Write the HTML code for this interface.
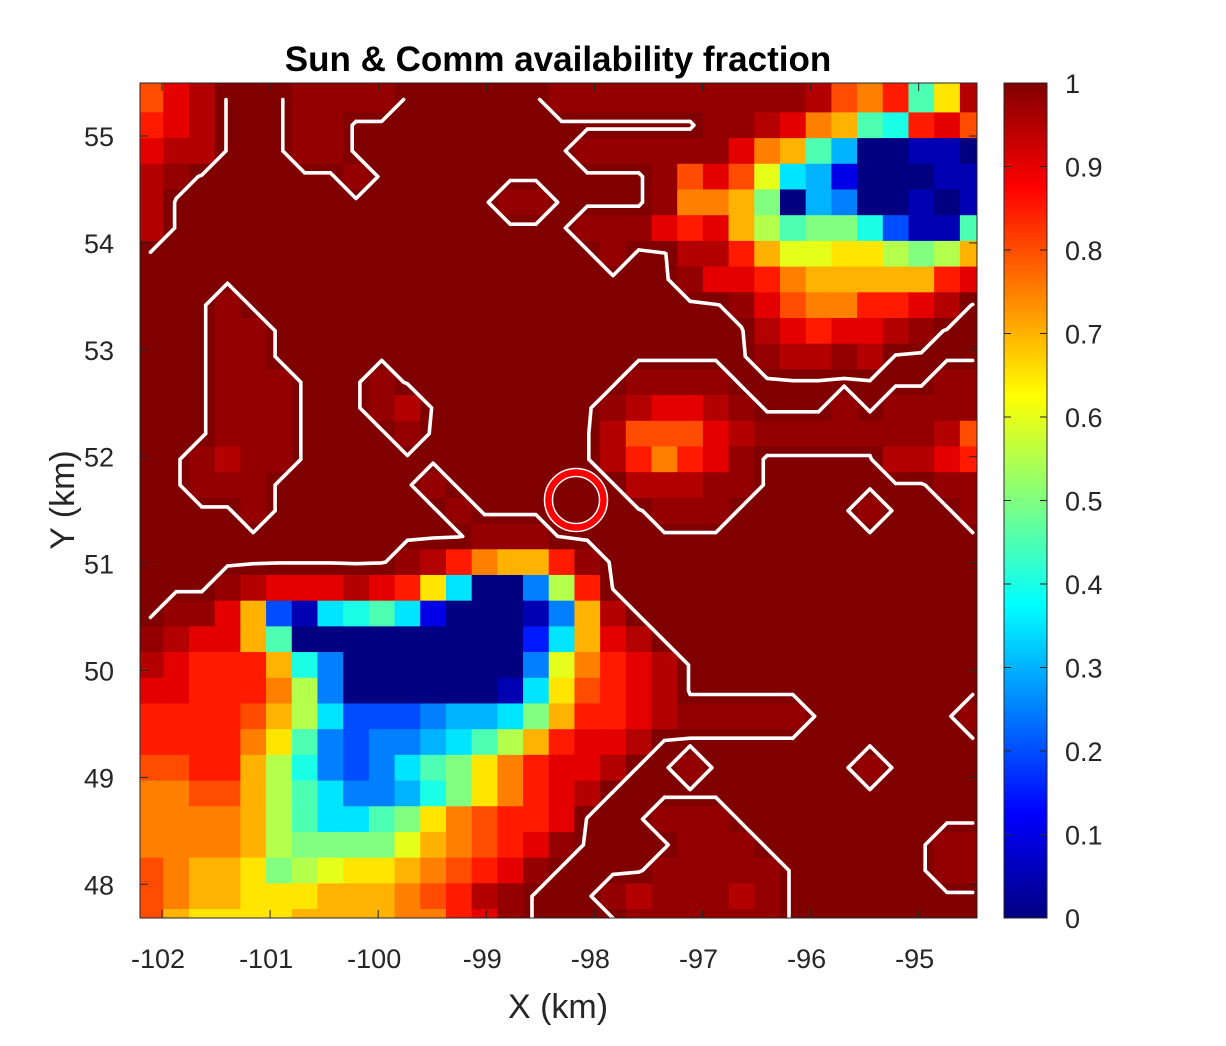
<!DOCTYPE html>
<html><head><meta charset="utf-8">
<style>
html,body{margin:0;padding:0;background:#fff;}
svg text{font-family:"Liberation Sans",Arial,sans-serif;fill:#262626;}
</style></head>
<body>
<svg id="chart" width="1226" height="1041" viewBox="0 0 1226 1041" xmlns="http://www.w3.org/2000/svg">
  <defs>
    <clipPath id="plotClip"><rect x="140" y="83" width="837" height="835"/></clipPath>
    <linearGradient id="jetGrad" x1="0" y1="1" x2="0" y2="0">
      <stop offset="0" stop-color="#000080"/>
      <stop offset="0.125" stop-color="#0000ff"/>
      <stop offset="0.375" stop-color="#00ffff"/>
      <stop offset="0.625" stop-color="#ffff00"/>
      <stop offset="0.875" stop-color="#ff0000"/>
      <stop offset="1" stop-color="#800000"/>
    </linearGradient>
  </defs>
  <text x="558" y="71" text-anchor="middle" font-size="35" font-weight="bold" style="fill:#000">Sun &amp; Comm availability fraction</text>
  <g id="cells" clip-path="url(#plotClip)"></g>
  <g id="contours" clip-path="url(#plotClip)"></g>
  <g>
    <circle cx="576" cy="500" r="27.5" fill="none" stroke="#ff0000" stroke-width="7"/>
    <circle cx="576" cy="500" r="31.5" fill="none" stroke="#ffffff" stroke-width="1.5"/>
    <circle cx="576" cy="500" r="23.5" fill="none" stroke="#ffffff" stroke-width="1.5"/>
  </g>
  <rect x="140" y="83" width="837" height="835" fill="none" stroke="#262626" stroke-width="1"/>
  <g id="xticks"></g>
  <g id="yticks"></g>
  <text x="558" y="1018" text-anchor="middle" font-size="34">X (km)</text>
  <text x="74" y="500" text-anchor="middle" font-size="34" transform="rotate(-90 74 500)">Y (km)</text>
  <rect x="1004" y="83" width="43" height="835" fill="url(#jetGrad)" stroke="#262626" stroke-width="1"/>
  <g id="cbticks"></g>
</svg>
<script>
// ---- data ----
const xTicks = [-102,-101,-100,-99,-98,-97,-96,-95];
const yTicks = [55,54,53,52,51,50,49,48];
const cbTicks = [0,0.1,0.2,0.3,0.4,0.5,0.6,0.7,0.8,0.9,1];
const cbTickLabels = ["0","0.1","0.2","0.3","0.4","0.5","0.6","0.7","0.8","0.9","1"];
// availability grid rows (top to bottom), each char = value code
const gridRows = [
"gijkkkxxxxkkkkkkxxxxxxxxxxjgfh9dj",
"hijkkkxxkkkkkkkkkkkkkkxxjife98hig",
"ijjkkkxxkkkkkkkkkxxxxxxife9600110",
"jxkkkkkkxkkkkkkkkkkkxgigc76200011",
"jkkkkkkkkkkkkkxxkkkkxffea06500101",
"jkkkkkkkkkkkkkkkkxxxihieb9aa84119",
"kkkkkkkkkkkkkkkkkkxkkjjheccddbabe",
"kkkkkkkkkkkkkkkkkkkkkxiihfeeeeehi",
"kkkxkkkkkkkkkkkkkkkkkkkxigffhhijk",
"kkkxxkkkkkkkkkkkkkkkkkkkjihiijxkk",
"kkkxxkkkkkkkkkkkkkkkkkkkxjjxjkkkk",
"kkkxxxkkkxkkkkkkkkkxxxxkkkkkkkkxx",
"kkkxxxkkkxjkkkkkkkxjiijxkkkxkxxxx",
"kkkxxxkkkkxkkkkkkkjgggijxxxxxxxjg",
"kkxjxxkkkkkkkkkkkkjhfhixkkkkkjjih",
"kkxxxkkkkkkxkkkkkkkjjjxxkkkkkkkxx",
"kkkkxkkkkkkkxkkkkkkkxxxkkkkkxkkkx",
"kkkkkkkkkkkkkxxxkkkkkkkkkkkkkkkkk",
"kkkkkkkkkkxjhfeehxkkkkkkkkkkkkkkk",
"kkkxjiiijihd7005bhkkkkkkkkkkkkkkk",
"kxxie417897200015ejkkkkkkkkkkkkkk",
"xjiie900000000037eijkkkkkkkkkkkkk",
"jihhhe8500000005cfhijkkkkkkkkkkkk",
"iihhhfb500000017dghijkkkkkkkkkkkk",
"hhhhgeb74445667aehhijxxxxxkkkkkkx",
"hhhhfd95455679behiijkkkkkkkkkkkkk",
"gghheb854579adfhiijkkxkkkkkkxkkkk",
"ffggeb975568adfhijkkkkkkkkkkkkkkk",
"ffffeb9779adfghhikkkxxxkkkkkkkkkk",
"ffffebaaaacefghixkkkkxxxkkkkkkkxx",
"gfeedabcddefghixkkkkxxxxxkkkkkkxx",
"gfeedddeeefghjxkkkxjxxxjxkkkkkkkk",
"geddddeeeeffhixkkkkxxxxxxkkkkkkkk"
];
const codeChars = "0123456789abcdefghijkx";
const codeValues = [0,0.05,0.1,0.15,0.2,0.25,0.3,0.35,0.4,0.45,0.5,0.55,0.6,0.65,0.7,0.75,0.8,0.85,0.9,0.95,1.0,0.98];
const contourLevel = 0.997;
// grid geometry (km)
const gridX0 = -102.1068, gridDX = 0.2377;
const gridY0 = 55.341, gridDY = 0.2404;

// ---- axes ----
function xScale(v){ return 162 + (v + 102) * 108.1; }
function yScale(v){ return 136 + (55 - v) * 106.9; }
function cbScale(v){ return 918 - v * 835; }

function jet(v){
  v = Math.max(0, Math.min(1, v));
  function cl(a){ return Math.max(0, Math.min(1, a)); }
  const r = cl(Math.min(4*v - 1.5, -4*v + 4.5));
  const g = cl(Math.min(4*v - 0.5, -4*v + 3.5));
  const b = cl(Math.min(4*v + 0.5, -4*v + 2.5));
  return "rgb(" + Math.round(r*255) + "," + Math.round(g*255) + "," + Math.round(b*255) + ")";
}

const NS = "http://www.w3.org/2000/svg";
const grid = gridRows.map(function(row){
  const out = [];
  for (let i = 0; i < row.length; i++) out.push(codeValues[codeChars.indexOf(row[i])]);
  return out;
});
const R = grid.length, C = grid[0].length;
function cx(c){ return gridX0 + c * gridDX; }
function cy(r){ return gridY0 - r * gridDY; }

// cells
const cellsG = document.getElementById("cells");
for (let r = 0; r < R; r++) {
  for (let c = 0; c < C; c++) {
    const x1 = xScale(cx(c) - gridDX/2), x2 = xScale(cx(c) + gridDX/2);
    const y1 = yScale(cy(r) + gridDY/2), y2 = yScale(cy(r) - gridDY/2);
    const rect = document.createElementNS(NS, "rect");
    rect.setAttribute("x", x1.toFixed(2));
    rect.setAttribute("y", (r === 0 ? 83 : y1).toFixed(2));
    rect.setAttribute("width", (x2 - x1 + 0.6).toFixed(2));
    rect.setAttribute("height", ((r === 0 ? y2 - 83 : y2 - y1) + 0.6).toFixed(2));
    rect.setAttribute("fill", jet(grid[r][c]));
    
    
    cellsG.appendChild(rect);
  }
}

// contours via marching squares
const contG = document.getElementById("contours");
function interp(r1, c1, r2, c2){
  const v1 = grid[r1][c1], v2 = grid[r2][c2];
  let t = (contourLevel - v1) / (v2 - v1);
  if (!isFinite(t)) t = 0.5;
  const kx = cx(c1) + (cx(c2) - cx(c1)) * t;
  const ky = cy(r1) + (cy(r2) - cy(r1)) * t;
  return [xScale(kx), yScale(ky)];
}
let pathD = "";
for (let r = 0; r < R - 1; r++) {
  for (let c = 0; c < C - 1; c++) {
    const tl = grid[r][c] < contourLevel ? 1 : 0;
    const tr = grid[r][c+1] < contourLevel ? 1 : 0;
    const br = grid[r+1][c+1] < contourLevel ? 1 : 0;
    const bl = grid[r+1][c] < contourLevel ? 1 : 0;
    const idx = tl*8 + tr*4 + br*2 + bl;
    if (idx === 0 || idx === 15) continue;
    const T = function(){ return interp(r, c, r, c+1); };
    const Rt = function(){ return interp(r, c+1, r+1, c+1); };
    const B = function(){ return interp(r+1, c, r+1, c+1); };
    const L = function(){ return interp(r, c, r+1, c); };
    let segs = [];
    switch (idx) {
      case 1: case 14: segs = [[L(), B()]]; break;
      case 2: case 13: segs = [[B(), Rt()]]; break;
      case 3: case 12: segs = [[L(), Rt()]]; break;
      case 4: case 11: segs = [[T(), Rt()]]; break;
      case 5: segs = [[L(), T()], [B(), Rt()]]; break;
      case 6: case 9: segs = [[T(), B()]]; break;
      case 7: case 8: segs = [[L(), T()]]; break;
      case 10: segs = [[T(), Rt()], [L(), B()]]; break;
    }
    segs.forEach(function(s){
      pathD += "M" + s[0][0].toFixed(1) + " " + s[0][1].toFixed(1) + "L" + s[1][0].toFixed(1) + " " + s[1][1].toFixed(1);
    });
  }
}
const cpath = document.createElementNS(NS, "path");
cpath.setAttribute("d", pathD);
cpath.setAttribute("fill", "none");
cpath.setAttribute("stroke", "#ffffff");
cpath.setAttribute("stroke-width", "3.6");
cpath.setAttribute("stroke-linecap", "round");
cpath.setAttribute("stroke-linejoin", "round");


contG.appendChild(cpath);

// x ticks
const xg = document.getElementById("xticks");
xTicks.forEach(function(v){
  const x = xScale(v);
  const t1 = document.createElementNS(NS, "line");
  t1.setAttribute("x1", x); t1.setAttribute("x2", x);
  t1.setAttribute("y1", 918); t1.setAttribute("y2", 910);
  t1.setAttribute("stroke", "#262626"); t1.setAttribute("stroke-width", "1");
  
  
  xg.appendChild(t1);
  const t2 = document.createElementNS(NS, "line");
  t2.setAttribute("x1", x); t2.setAttribute("x2", x);
  t2.setAttribute("y1", 83); t2.setAttribute("y2", 91);
  t2.setAttribute("stroke", "#262626"); t2.setAttribute("stroke-width", "1");
  
  
  xg.appendChild(t2);
  const lb = document.createElementNS(NS, "text");
  lb.setAttribute("x", x - 4); lb.setAttribute("y", 968);
  lb.setAttribute("text-anchor", "middle"); lb.setAttribute("font-size", "27");
  lb.textContent = String(v);
  
  
  xg.appendChild(lb);
});
// y ticks
const yg = document.getElementById("yticks");
yTicks.forEach(function(v){
  const y = yScale(v);
  const t1 = document.createElementNS(NS, "line");
  t1.setAttribute("x1", 140); t1.setAttribute("x2", 148);
  t1.setAttribute("y1", y); t1.setAttribute("y2", y);
  t1.setAttribute("stroke", "#262626"); t1.setAttribute("stroke-width", "1");
  
  
  yg.appendChild(t1);
  const t2 = document.createElementNS(NS, "line");
  t2.setAttribute("x1", 977); t2.setAttribute("x2", 969);
  t2.setAttribute("y1", y); t2.setAttribute("y2", y);
  t2.setAttribute("stroke", "#262626"); t2.setAttribute("stroke-width", "1");
  
  
  yg.appendChild(t2);
  const lb = document.createElementNS(NS, "text");
  lb.setAttribute("x", 114); lb.setAttribute("y", y + 10);
  lb.setAttribute("text-anchor", "end"); lb.setAttribute("font-size", "27");
  lb.textContent = String(v);
  
  
  yg.appendChild(lb);
});
// colorbar ticks
const cg = document.getElementById("cbticks");
cbTicks.forEach(function(v, i){
  const y = cbScale(v);
  [[1004, 1011], [1047, 1040]].forEach(function(p){
    const t = document.createElementNS(NS, "line");
    t.setAttribute("x1", p[0]); t.setAttribute("x2", p[1]);
    t.setAttribute("y1", y); t.setAttribute("y2", y);
    t.setAttribute("stroke", "#262626"); t.setAttribute("stroke-width", "1");
    
    
    cg.appendChild(t);
  });
  const lb = document.createElementNS(NS, "text");
  lb.setAttribute("x", 1065); lb.setAttribute("y", y + 10);
  lb.setAttribute("font-size", "27");
  lb.textContent = cbTickLabels[i];
  
  
  cg.appendChild(lb);
});
</script>
</body></html>
